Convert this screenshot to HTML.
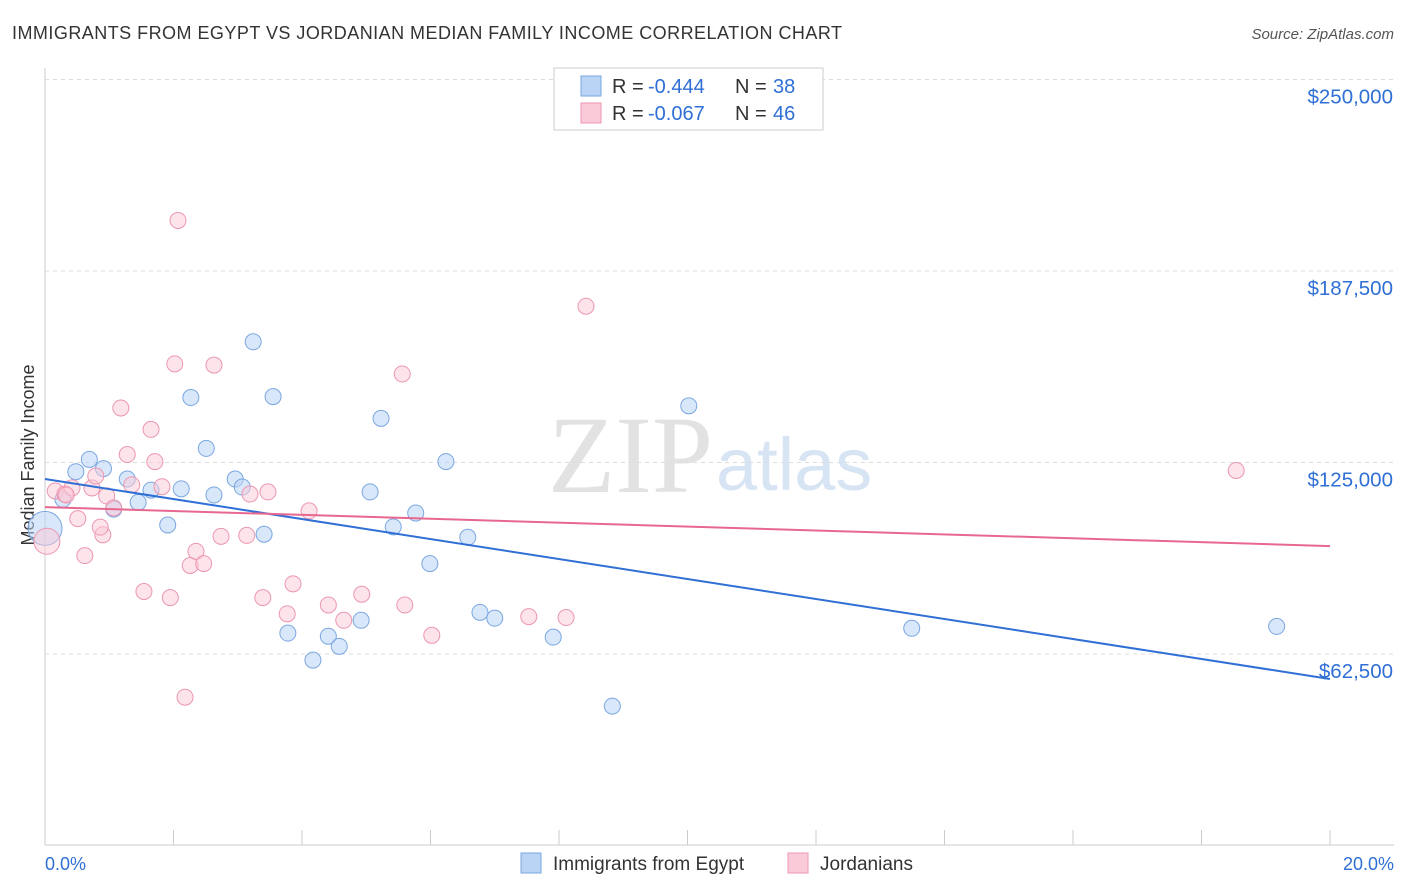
<!DOCTYPE html>
<html><head><meta charset="utf-8">
<style>
body{margin:0;background:#fff;font-family:"Liberation Sans",sans-serif;}
#wrap{position:relative;width:1406px;height:892px;overflow:hidden;}
</style></head>
<body>
<div id="wrap">
<svg id="svg" width="1406" height="892" xmlns="http://www.w3.org/2000/svg">
<text x="12" y="39" font-size="18" fill="#333" textLength="830" lengthAdjust="spacing">IMMIGRANTS FROM EGYPT VS JORDANIAN MEDIAN FAMILY INCOME CORRELATION CHART</text>
<text x="1394" y="39" font-size="15" fill="#555" font-style="italic" text-anchor="end">Source: ZipAtlas.com</text>
<text x="713" y="492" font-size="110" fill="#e2e2e2" text-anchor="end" font-family="Liberation Serif">ZIP</text>
<text x="716" y="490" font-size="74" fill="#d6e4f3">atlas</text>
<text transform="translate(34,455) rotate(-90)" font-size="18" fill="#333" text-anchor="middle">Median Family Income</text>
<g id="grid"></g><g id="pts"></g><g id="lines"></g>
<g>
<rect x="554" y="68" width="269" height="62" fill="#fff" stroke="#ccc"/>
<rect x="581" y="76" width="20" height="20" fill="#b9d4f5" stroke="#7aa7e0"/>
<text x="612" y="93" font-size="20" fill="#333">R =</text>
<text x="648" y="93" font-size="20" fill="#2f6fd6">-0.444</text>
<text x="735" y="93" font-size="20" fill="#333">N =</text>
<text x="773" y="93" font-size="20" fill="#2f6fd6">38</text>
<rect x="581" y="103" width="20" height="20" fill="#fbcad8" stroke="#ec96b0"/>
<text x="612" y="120" font-size="20" fill="#333">R =</text>
<text x="648" y="120" font-size="20" fill="#2f6fd6">-0.067</text>
<text x="735" y="120" font-size="20" fill="#333">N =</text>
<text x="773" y="120" font-size="20" fill="#2f6fd6">46</text>
</g>
<g>
<rect x="521" y="853" width="20" height="20" fill="#b9d4f5" stroke="#7aa7e0"/>
<text x="553" y="870" font-size="19" fill="#333">Immigrants from Egypt</text>
<rect x="788" y="853" width="20" height="20" fill="#fbcad8" stroke="#ec96b0"/>
<text x="820" y="870" font-size="19" fill="#333">Jordanians</text>
</g>
<text x="45" y="870" font-size="18" fill="#2f6fd6">0.0%</text>
<text x="1394" y="870" font-size="18" fill="#2f6fd6" text-anchor="end">20.0%</text>
</svg>
</div>
<script>
const yTicks=[62500,125000,187500,250000];
const yTickLabels=["$62,500","$125,000","$187,500","$250,000"];
const egyptX=[0.0,0.48,0.69,0.91,0.28,1.07,1.28,1.45,1.65,1.91,2.12,2.27,2.51,2.63,2.96,3.07,3.24,3.41,3.55,3.78,4.17,4.41,4.58,4.92,5.06,5.23,5.42,5.77,5.99,6.24,6.58,6.77,7.0,7.91,8.83,10.02,13.49,19.17];
const egyptY=[103500,122000,126000,123000,113000,109800,119600,112000,116000,104600,116400,146200,129600,114400,119600,117000,164400,101600,146500,69300,60500,68300,65000,73500,115400,139400,104000,108500,92000,125300,100600,76100,74200,68000,45500,143500,70900,71500];
const jordX=[0.03,0.16,0.31,0.42,0.51,0.62,0.73,0.79,0.9,0.96,1.07,1.18,1.28,1.35,1.54,1.65,1.71,1.82,1.95,2.02,2.07,2.18,2.26,2.35,2.47,2.63,2.74,3.14,3.19,3.39,3.47,3.77,3.86,4.11,4.41,4.65,4.93,5.56,5.6,6.02,7.53,8.11,8.42,18.54,0.86,0.33];
const jordY=[99300,115700,114700,116700,106700,94600,116700,120600,101400,114100,110200,142800,127600,117700,82900,135800,125300,117100,80900,157200,204000,48400,91400,96000,92000,156800,100900,101200,114700,80900,115400,75600,85400,109200,78500,73500,82000,153900,78500,68600,74700,74400,176000,122400,103900,114400];
const blueLine=[119600,54340];
const pinkLine=[110450,97720];
const X=v=>45+v/20*1285, Y=v=>845.5-v/62500*191.5;
const NS="http://www.w3.org/2000/svg";
function mk(t,a,p){const e=document.createElementNS(NS,t);for(const k in a)e.setAttribute(k,a[k]);p.appendChild(e);return e;}
const grid=document.getElementById('grid');
let ax=mk('line',{x1:45,y1:68,x2:45,y2:845,stroke:'#ccc'},grid);


let bx=mk('line',{x1:45,y1:845,x2:1394,y2:845,stroke:'#ccc'},grid);


for(let i=1;i<=10;i++){let t=mk('line',{x1:X(i*2),y1:830,x2:X(i*2),y2:845,stroke:'#ccc'},grid);

}
yTicks.forEach((v,i)=>{let g=mk('line',{x1:45,y1:Y(v),x2:1394,y2:Y(v),stroke:'#ddd','stroke-dasharray':'4,4'},grid);


let t=mk('text',{x:1393,y:Y(v)+24,'font-size':20.5,fill:'#2f6fd6','text-anchor':'end'},grid);t.textContent=yTickLabels[i];

});
const pts=document.getElementById('pts');
egyptX.forEach((x,i)=>{let c=mk('circle',{cx:X(x),cy:Y(egyptY[i]),r:i==0?17:8,fill:'rgba(185,212,245,0.55)',stroke:'#7aa7e0','stroke-width':1},pts);

});
jordX.forEach((x,i)=>{let c=mk('circle',{cx:X(x),cy:Y(jordY[i]),r:i==0?13:8,fill:'rgba(251,202,216,0.5)',stroke:'#ec96b0','stroke-width':1},pts);

});
const lines=document.getElementById('lines');
let l1=mk('line',{x1:X(0),y1:Y(blueLine[0]),x2:X(20),y2:Y(blueLine[1]),stroke:'#2f6fd6','stroke-width':2},lines);


let l2=mk('line',{x1:X(0),y1:Y(pinkLine[0]),x2:X(20),y2:Y(pinkLine[1]),stroke:'#e8678f','stroke-width':2},lines);


</script>
</body></html>
